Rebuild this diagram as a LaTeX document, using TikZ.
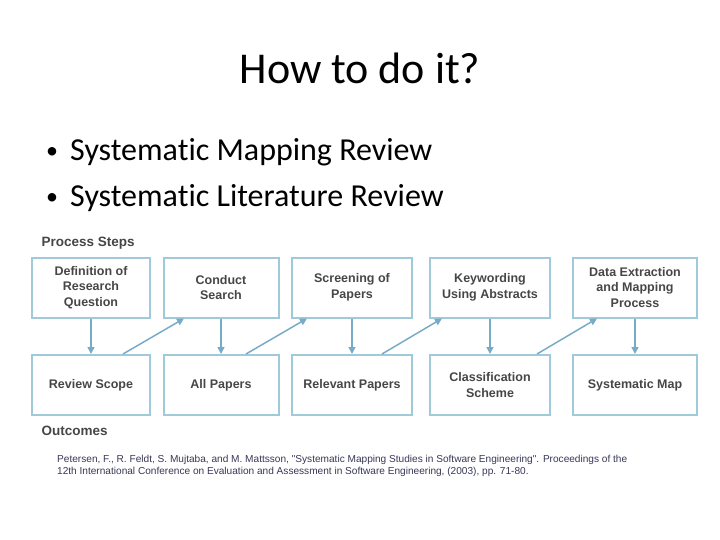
\documentclass[tikz,border=0pt]{standalone}
\usepackage{fontspec}
\setmainfont{Carlito}[Ligatures={NoCommon}]
\newfontfamily\figfont{Liberation Sans}
\usepackage{tikz}
\usetikzlibrary{calc}
\usetikzlibrary{positioning,arrows.meta}

\definecolor{boxline}{RGB}{160,202,218}
\definecolor{arrowline}{RGB}{120,172,198}
\definecolor{figtext}{RGB}{70,70,70}
\definecolor{citetext}{RGB}{55,55,85}

\tikzset{
  stepbox/.style={draw=boxline, line width=2pt, minimum height=60pt, inner sep=2pt,
    align=center, text=figtext, font=\figfont\bfseries\fontsize{12.5}{15.5}\selectfont},
  heading/.style={anchor=base west, text=figtext, font=\figfont\bfseries\fontsize{13.5}{16}\selectfont},
  flow/.style={-{Triangle[length=7pt,width=7pt]}, draw=arrowline, line width=1.5pt}
}

\begin{document}
\begin{tikzpicture}[x=1pt,y=-1pt]
            \useasboundingbox (0,0) rectangle (720,540);

            % Title and bullets
            \node [anchor=base, font=\fontsize{44}{50}\selectfont] (title) at (360,84) {How to do it?};
            \foreach \i/\y/\txt in {A/161/Systematic Mapping Review, B/207/Systematic Literature Review} {
                \node [anchor=base, inner sep=0pt, font=\fontsize{24}{28}\selectfont] (dot\i) at (52,\y-2) {\textbullet};
                \node [anchor=base west, inner sep=0pt, font=\fontsize{32}{38}\selectfont] (bullet\i) at (70,\y) {\txt};
            }

            % Process steps (top row)
            \node [heading] (steps) at (38,246) {Process Steps};
            \foreach \name/\xc/\w/\txt in {def/91/118/{Definition of\\Research\\Question}, search/221/115/{Conduct\\Search},
                screen/352/120/{Screening of\\Papers}, keyw/490/120/{Keywording\\Using Abstracts},
                extract/635/124/{Data Extraction\\and Mapping\\Process}} {
                \node [stepbox, minimum width=\w pt] (\name) at (\xc,287.5) {\txt};
            }

            % Outcomes (bottom row)
            \foreach \name/\xc/\w/\txt in {scope/91/118/{Review Scope}, allp/221/115/{All Papers},
                relev/352/120/{Relevant Papers}, classif/490/120/{Classification\\Scheme},
                map/635/124/{Systematic Map}} {
                \node [stepbox, minimum width=\w pt] (\name) at (\xc,385) {\txt};
            }
            \node [heading] (outc) at (38,435) {Outcomes};

            % Vertical arrows
            \foreach \a/\b in {def/scope, search/allp, screen/relev, keyw/classif, extract/map} {
                \draw [flow] (\a.south) -- (\b.north);
            }

            % Diagonal arrows
            \draw [flow] ($(scope.north)+(32,0)$) -- ($(search.south)+(-37,0)$);
            \draw [flow] ($(allp.north)+(25,0)$) -- ($(screen.south)+(-45,0)$);
            \draw [flow] ($(relev.north)+(30,0)$) -- ($(keyw.south)+(-48,0)$);
            \draw [flow] ($(classif.north)+(47,0)$) -- ($(extract.south)+(-38,0)$);

            % Reference
            \node [anchor=base west, align=left, text=citetext, inner sep=0pt,
                font=\figfont\fontsize{10.1}{12}\selectfont] (cite) at (57,474)
                {Petersen, F., R. Feldt, S. Mujtaba, and M. Mattsson, "Systematic Mapping Studies in Software Engineering". Proceedings of the\\
                12th International Conference on Evaluation and Assessment in Software Engineering, (2003), pp. 71-80.};
\end{tikzpicture}
\end{document}
